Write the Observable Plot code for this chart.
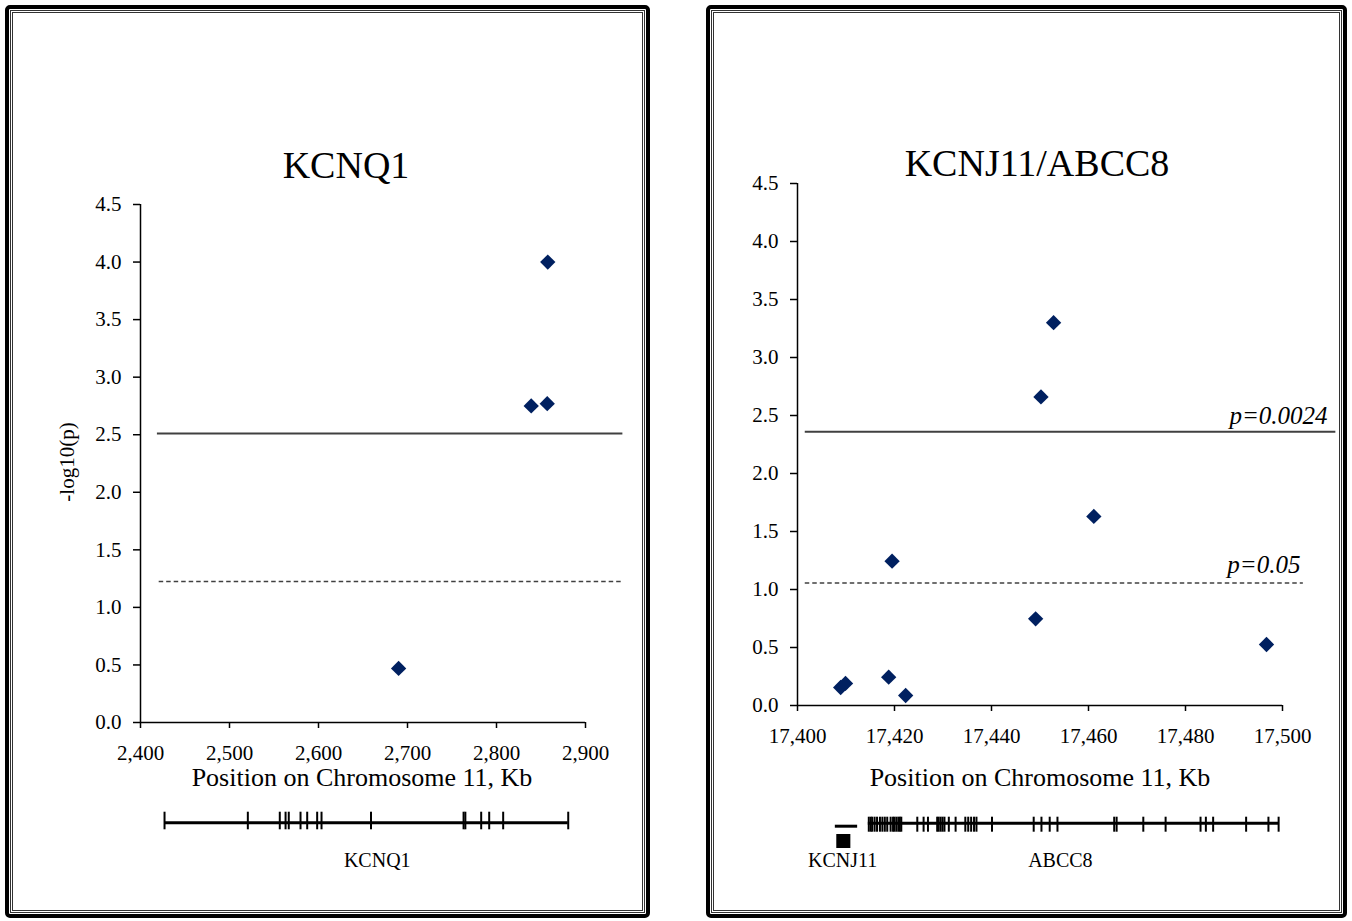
<!DOCTYPE html>
<html><head><meta charset="utf-8">
<script src="https://cdn.jsdelivr.net/npm/d3@7"></script>
<script src="https://cdn.jsdelivr.net/npm/@observablehq/plot@0.6"></script>
<style>
body{margin:0;background:#fff;font-family:"Liberation Serif","Times New Roman",serif;}
#page{position:relative;width:1352px;height:921px;overflow:hidden;background:#fff;}
.frame{position:absolute;box-sizing:border-box;border:4px solid #000;border-radius:5px;z-index:5;pointer-events:none;}
.frame::after{content:"";position:absolute;inset:1px;border:3px double #333;}
.lbl{position:absolute;transform:translate(-50%,-50%);white-space:nowrap;color:#000;line-height:1;}
.box{position:absolute;z-index:1;}
</style>
</head><body>
<div id="page">
  <div class="frame" style="left:5px;top:5px;width:645px;height:913px;"></div>
  <div class="frame" style="left:706px;top:5px;width:641px;height:913px;"></div>
  <div class="lbl" style="left:346px;top:165px;font-size:38px;">KCNQ1</div>
  <div class="lbl" style="left:1037px;top:163px;font-size:38px;">KCNJ11/ABCC8</div>
  <div class="lbl" style="left:67px;top:462px;font-size:21px;transform:translate(-50%,-50%) rotate(-90deg);">-log10(p)</div>
  <div class="lbl" style="left:362px;top:778px;font-size:26px;">Position on Chromosome 11, Kb</div>
  <div class="lbl" style="left:1040px;top:778px;font-size:26px;">Position on Chromosome 11, Kb</div>
  <div class="box" id="leftMain" style="left:0;top:0;"></div>
  <div class="box" id="rightMain" style="left:660px;top:0;"></div>
  <div class="box" id="leftGene" style="left:0;top:790px;"></div>
  <div class="box" id="rightGene" style="left:660px;top:790px;"></div>
</div>
<script>
// ---- data ----
const yTicks = [0, 0.5, 1, 1.5, 2, 2.5, 3, 3.5, 4, 4.5];
const leftXTicks = [2400, 2500, 2600, 2700, 2800, 2900];
const rightXTicks = [17400, 17420, 17440, 17460, 17480, 17500];

// KCNQ1 SNPs (position in kb, -log10 p)
const leftSnpPos = [2690, 2839, 2857, 2857.6];
const leftSnpLogP = [0.47, 2.75, 2.77, 4.0];

// KCNJ11/ABCC8 SNPs
const rightSnpPos = [17408.9, 17409.9, 17418.8, 17419.5, 17422.3, 17449.1, 17450.2, 17452.8, 17461.1, 17496.7];
const rightSnpLogP = [0.155, 0.19, 0.244, 1.244, 0.086, 0.747, 2.66, 3.30, 1.63, 0.526];

// significance thresholds (as drawn)
const leftSolid = [{value: 2.51, x1: 2419, x2: 2942}];
const leftDashed = [{value: 1.225, x1: 2421, x2: 2942}];
const rightSolid = [{value: 2.36, x1: 17401.6, x2: 17511, label: "p=0.0024", lx: 17509.3}];
const rightDashed = [{value: 1.056, x1: 17401.6, x2: 17504.3, label: "p=0.05", lx: 17503.7}];

// gene structures (kb)
const kcnq1Span = [{x1: 2427, x2: 2880.6}];
const kcnq1Exons = [2427, 2520.6, 2556.5, 2563, 2566.6, 2579.8, 2587.3, 2598.5, 2603.4, 2659, 2763, 2765, 2782.8, 2791.8, 2807.5, 2880.6];
const leftGeneLabels = [{name: "KCNQ1", pos: 2666}];

const abcc8Span = [{x1: 17414.6, x2: 17499.2}];
const abcc8Exons = [17414.7, 17415.1, 17415.4, 17415.9, 17416.4, 17417.0, 17417.5, 17418.0, 17418.5, 17419.2, 17419.7, 17420.0, 17420.4, 17420.8, 17421.1, 17421.4,
  17424.7, 17426.0, 17426.9, 17428.8, 17429.1, 17429.5, 17429.9, 17430.3, 17431.2, 17432.6, 17434.6, 17435.2, 17435.8, 17436.4, 17436.9, 17440.1,
  17448.7, 17450.3, 17452.0, 17453.6, 17465.3, 17465.8, 17471.3, 17475.9, 17483.1, 17484.2, 17485.7, 17492.5, 17497.1, 17499.2];
const kcnj11Span = [{x1: 17407.8, x2: 17412.4}];
const kcnj11Box = [{x1: 17408.1, x2: 17411.0}];
const rightGeneLabels = [{name: "KCNJ11", pos: 17409.3}, {name: "ABCC8", pos: 17454.2}];

// ---- rendering ----
const navy = "#002060";
const font = '"Liberation Serif", "Times New Roman", serif';
const baseStyle = {fontFamily: font, fontSize: "21px", background: "transparent", overflow: "visible", color: "#000", maxWidth: "none"};

const leftPts = leftSnpPos.map((p, i) => ({pos: p, logp: leftSnpLogP[i]}));
const rightPts = rightSnpPos.map((p, i) => ({pos: p, logp: rightSnpLogP[i]}));

function mainPlot({width, ml, mr, mt, mb, domain, xTicks, pts, solid, dashed, labels}) {
  const marks = [
    Plot.axisX({ticks: xTicks, tickFormat: d3.format(","), tickSize: 6, tickPadding: 17, label: null, strokeWidth: 1.5, fontSize: 21}),
    Plot.axisY({ticks: yTicks, tickFormat: d3.format(".1f"), tickSize: 7, tickPadding: 12, label: null, strokeWidth: 1.5, fontSize: 21}),
    Plot.ruleX([domain[0]], {y1: 0, y2: 4.5, stroke: "#000", strokeWidth: 1.5}),
    Plot.ruleY([0], {x1: domain[0], x2: domain[1], stroke: "#000", strokeWidth: 1.5}),
    Plot.ruleY(solid, {y: "value", x1: "x1", x2: "x2", stroke: "#404040", strokeWidth: 2}),
    Plot.ruleY(dashed, {y: "value", x1: "x1", x2: "x2", stroke: "#404040", strokeWidth: 1.6, strokeDasharray: "4.5,3"}),
    Plot.dot(pts, {x: "pos", y: "logp", symbol: "diamond2", r: 6.9, fill: navy})
  ];
  if (labels) {
    marks.push(Plot.text(solid, {x: "lx", y: "value", text: "label", textAnchor: "end", lineAnchor: "bottom", dy: -8, fontSize: 25, fontStyle: "italic", fill: "#000"}));
    marks.push(Plot.text(dashed, {x: "lx", y: "value", text: "label", textAnchor: "end", lineAnchor: "bottom", dy: -10, fontSize: 25, fontStyle: "italic", fill: "#000"}));
  }
  return Plot.plot({
    width, height: 800, marginLeft: ml, marginRight: mr, marginTop: mt, marginBottom: mb,
    style: baseStyle,
    x: {domain, label: null},
    y: {domain: [0, 4.5], label: null},
    marks
  });
}

document.getElementById("leftMain").appendChild(mainPlot({
  width: 660, ml: 140, mr: 75, mt: 204, mb: 78, domain: [2400, 2900], xTicks: leftXTicks,
  pts: leftPts, solid: leftSolid, dashed: leftDashed, labels: false
}));
document.getElementById("rightMain").appendChild(mainPlot({
  width: 692, ml: 137, mr: 70, mt: 183, mb: 95, domain: [17400, 17500], xTicks: rightXTicks,
  pts: rightPts, solid: rightSolid, dashed: rightDashed, labels: true
}));

// gene diagrams
document.getElementById("leftGene").appendChild(Plot.plot({
  width: 660, height: 90, marginLeft: 140, marginRight: 75, marginTop: 0, marginBottom: 0,
  style: baseStyle,
  x: {domain: [2400, 2900], axis: null},
  y: {domain: [0, 1], range: [39.3, 21.7], axis: null},
  marks: [
    Plot.ruleY(kcnq1Span, {y: 0.4, x1: "x1", x2: "x2", stroke: "#000", strokeWidth: 3}),
    Plot.ruleX(kcnq1Exons, {x: d => d, y1: 0, y2: 1, stroke: "#000", strokeWidth: 2}),
    Plot.text(leftGeneLabels, {x: "pos", y: -1.74, text: "name", fontSize: 20, fill: "#000"})
  ]
}));

document.getElementById("rightGene").appendChild(Plot.plot({
  width: 692, height: 90, marginLeft: 137, marginRight: 70, marginTop: 0, marginBottom: 0,
  style: baseStyle,
  x: {domain: [17400, 17500], axis: null},
  y: {domain: [0, 1], range: [41.7, 26.7], axis: null},
  marks: [
    Plot.ruleY(abcc8Span, {y: 0.6, x1: "x1", x2: "x2", stroke: "#000", strokeWidth: 3}),
    Plot.ruleX(abcc8Exons, {x: d => d, y1: 0, y2: 1, stroke: "#000", strokeWidth: 2}),
    Plot.ruleY(kcnj11Span, {y: 0.4, x1: "x1", x2: "x2", stroke: "#000", strokeWidth: 3}),
    Plot.rect(kcnj11Box, {x1: "x1", x2: "x2", y1: -1.087, y2: -0.153, fill: "#000"}),
    Plot.text(rightGeneLabels, {x: "pos", y: -1.887, text: "name", fontSize: 20, fill: "#000"})
  ]
}));
</script>
</body></html>
